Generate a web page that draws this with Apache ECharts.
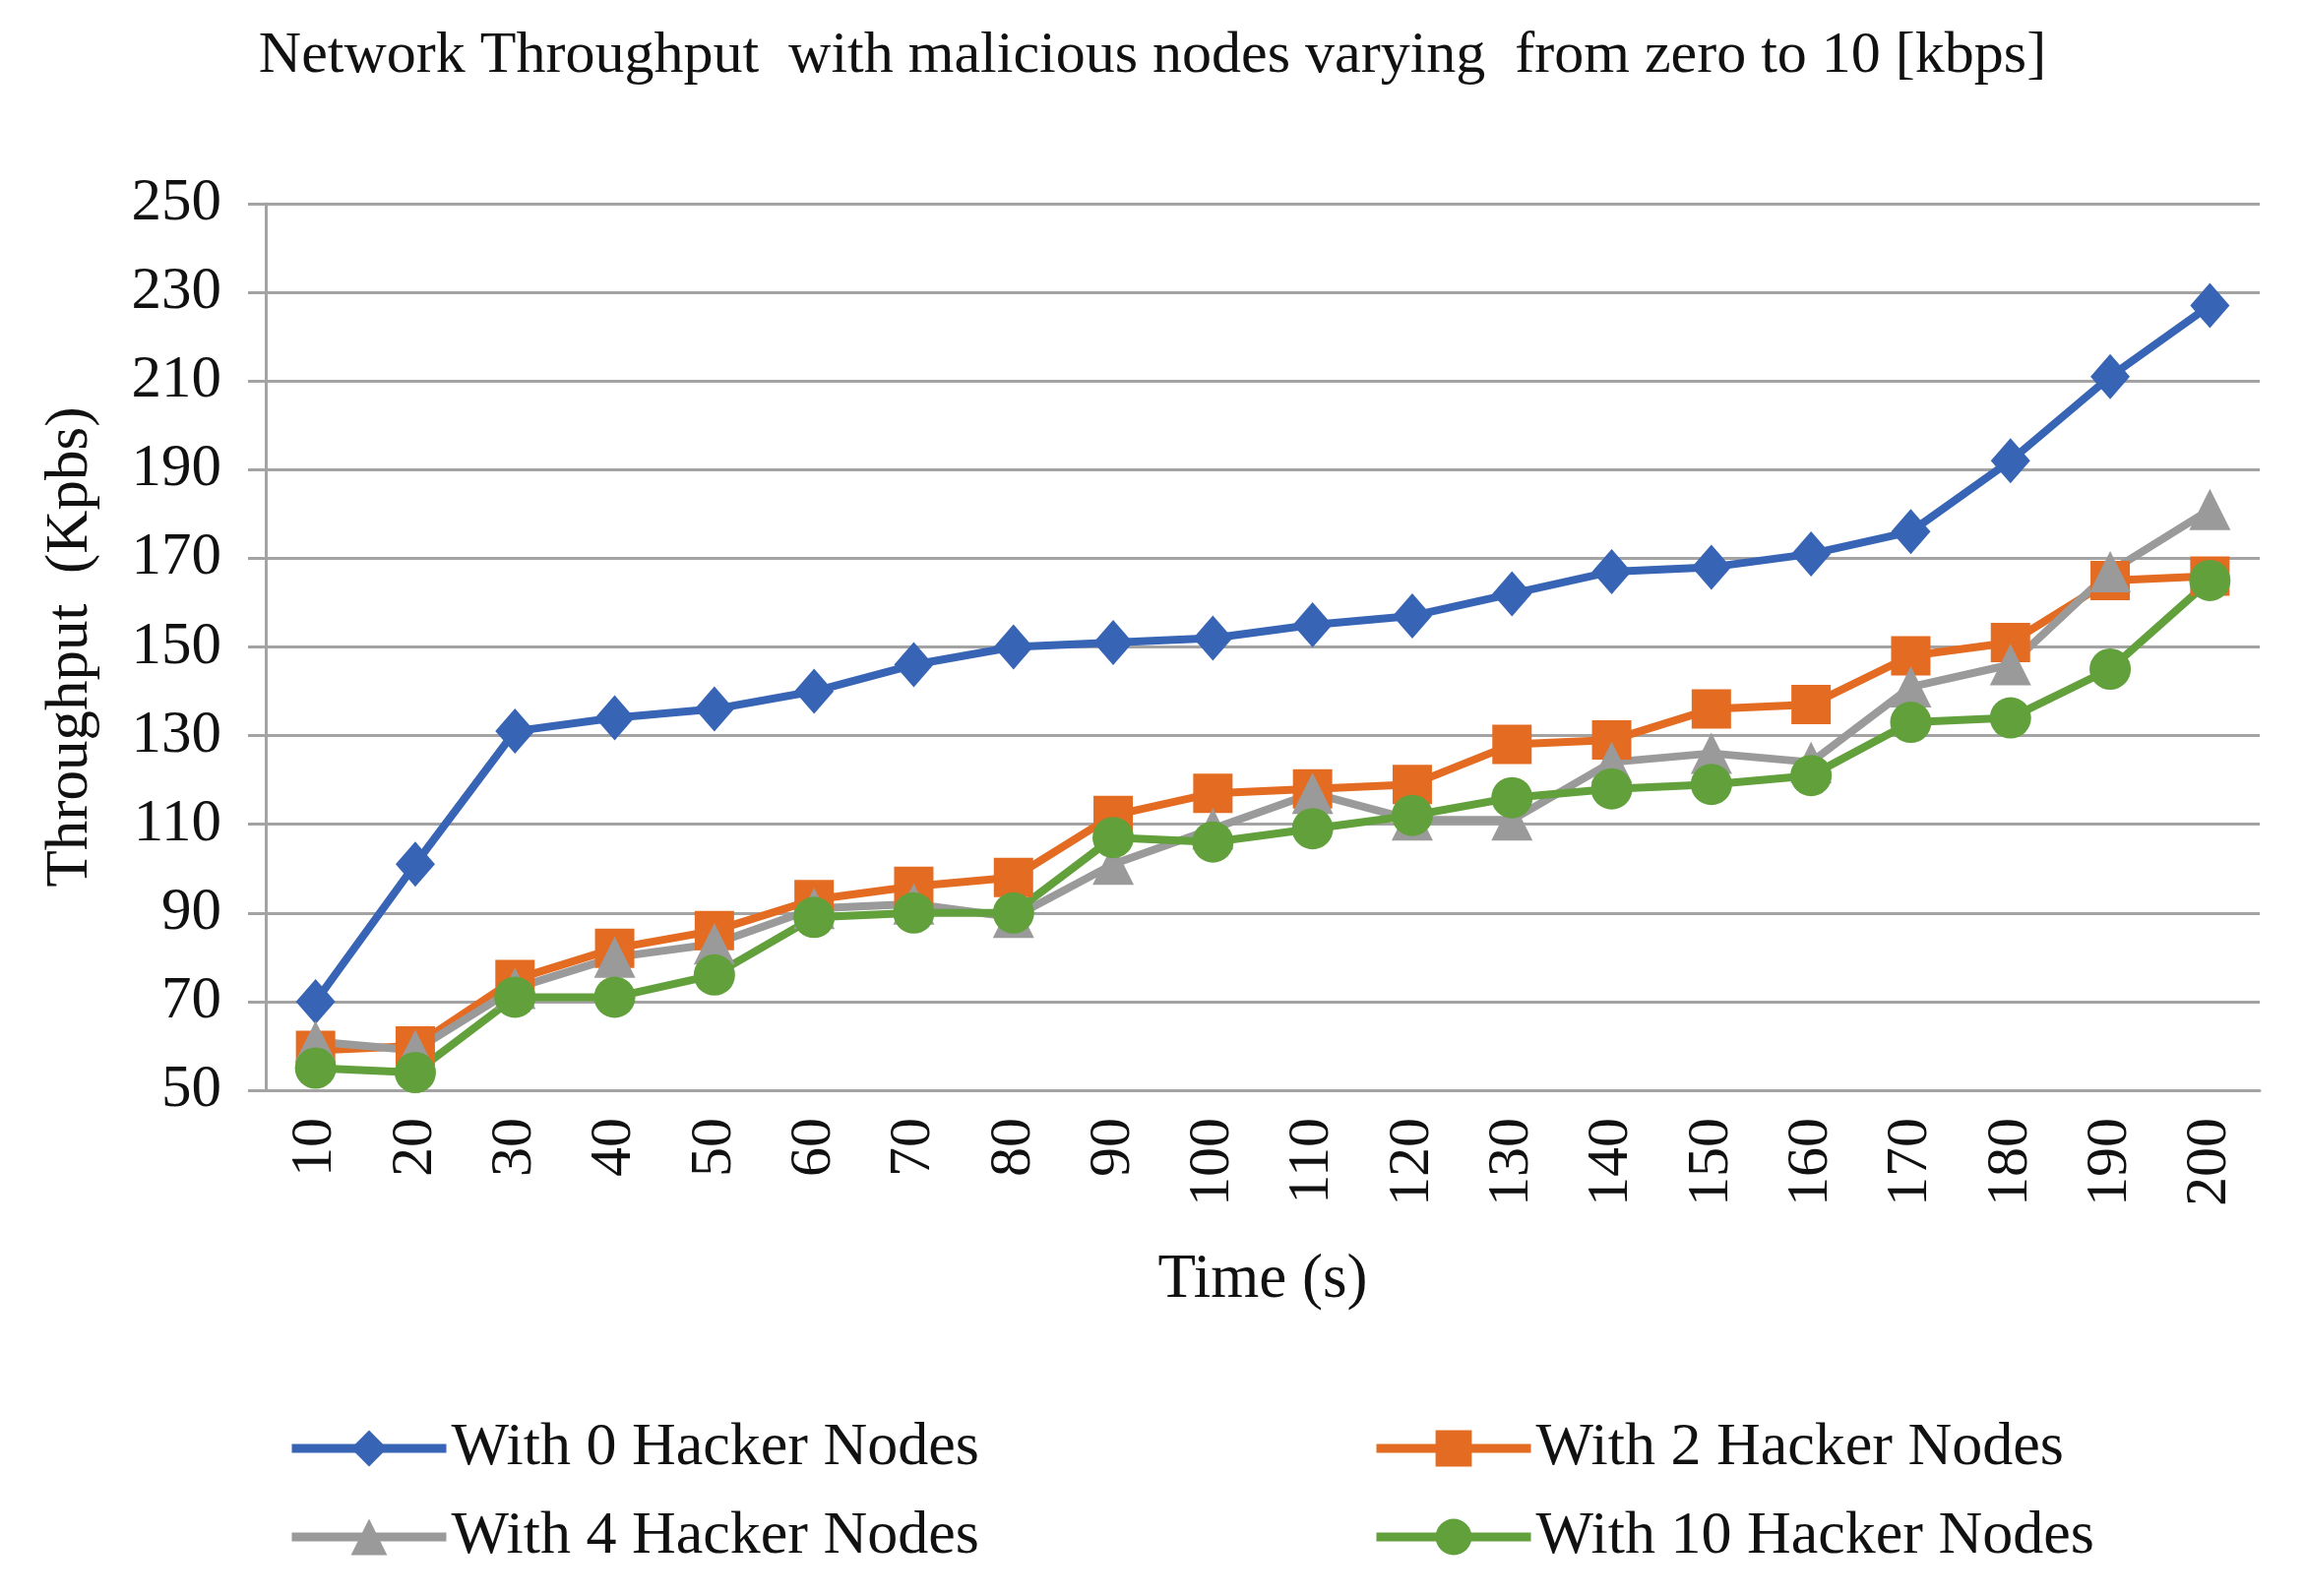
<!DOCTYPE html>
<html>
<head>
<meta charset="utf-8">
<title>Network Throughput</title>
<script src="https://cdn.jsdelivr.net/npm/echarts@6/dist/echarts.min.js"></script>
<style>
  html, body { margin: 0; padding: 0; background: #fff; }
  #main { width: 2342px; height: 1622px; }
</style>
</head>
<body>
<div id="main"></div>
<script>
// time steps (s)
const times = ['10', '20', '30', '40', '50', '60', '70', '80', '90', '100',
  '110', '120', '130', '140', '150', '160', '170', '180', '190', '200'];

// throughput (Kpbs)
const hacker0 = [70, 101, 131, 134, 136, 140, 146, 150, 151, 152, 155, 157, 162, 167, 168, 171, 176, 192, 211, 227];
const hacker2 = [59, 60, 75, 82, 86, 93, 96, 98, 112, 117, 118, 119, 128, 129, 136, 137, 148, 151, 165, 166];
const hacker4 = [61, 59, 73, 80, 83, 91, 92, 89, 101, 109, 117, 111, 111, 124, 126, 124, 141, 146, 167, 181];
const hacker10 = [55, 54, 71, 71, 76, 89, 90, 90, 107, 106, 109, 112, 116, 118, 119, 121, 133, 134, 145, 165];

const seriesNames = ['With 0 Hacker Nodes', 'With 2 Hacker Nodes', 'With 4 Hacker Nodes', 'With 10 Hacker Nodes'];
const yTicks = [50, 70, 90, 110, 130, 150, 170, 190, 210, 230, 250];

const font = 'Liberation Serif';
const gridColor = '#a3a3a3';

const chart = echarts.init(document.getElementById('main'));

function lineSeries(name, data, color, symbol, size) {
  return {
    name: name,
    type: 'line',
    data: data,
    symbol: symbol,
    symbolSize: size,
    showSymbol: true,
    lineStyle: { color: color, width: 8 },
    itemStyle: { color: color },
    emphasis: { disabled: true }
  };
}

// one legend per entry so the two columns line up like the original
const legendSpots = [
  { left: 287, top: 1436 },
  { left: 1389, top: 1436 },
  { left: 287, top: 1526 },
  { left: 1389, top: 1526 }
];

const option = {
  backgroundColor: '#fff',
  animation: false,
  title: {
    text: 'Network Throughput  with malicious nodes varying  from zero to 10 [kbps]',
    left: 'center',
    top: 22,
    textStyle: { fontFamily: font, fontSize: 60, fontWeight: 'normal', color: '#111' }
  },
  legend: legendSpots.map((p, i) => ({
    left: p.left,
    top: p.top,
    data: [seriesNames[i]],
    itemWidth: 157,
    itemHeight: 46,
    selectedMode: false,
    lineStyle: { width: 9 },
    textStyle: { fontFamily: font, fontSize: 62, color: '#111' }
  })),
  grid: { left: 270, right: 46, top: 207, bottom: 514 },
  xAxis: {
    type: 'category',
    data: times,
    boundaryGap: true,
    name: 'Time (s)',
    nameLocation: 'middle',
    nameGap: 162,
    nameTextStyle: { fontFamily: font, fontSize: 63, color: '#111' },
    axisLine: { show: true, lineStyle: { color: gridColor, width: 3 } },
    axisTick: { show: false },
    axisLabel: { rotate: 90, margin: 28, fontFamily: font, fontSize: 60, color: '#111' }
  },
  yAxis: {
    type: 'value',
    min: 50,
    max: 250,
    name: 'Throughput  (Kpbs)',
    nameLocation: 'middle',
    nameGap: 168,
    nameTextStyle: { fontFamily: font, fontSize: 61, color: '#111' },
    axisLine: { show: true, lineStyle: { color: gridColor, width: 3 } },
    axisTick: { show: true, length: 18, customValues: yTicks, lineStyle: { color: gridColor, width: 3 } },
    axisLabel: { margin: 45, customValues: yTicks, fontFamily: font, fontSize: 61, color: '#111' },
    splitLine: { show: true, lineStyle: { color: gridColor, width: 3 } }
  },
  series: [
    lineSeries(seriesNames[0], hacker0, '#3864b6', 'diamond', [40, 46]),
    lineSeries(seriesNames[1], hacker2, '#e46c22', 'rect', 40),
    lineSeries(seriesNames[2], hacker4, '#9a9a9a', 'triangle', 42),
    lineSeries(seriesNames[3], hacker10, '#62a03c', 'circle', 42)
  ]
};

option && chart.setOption(option);
</script>
</body>
</html>
